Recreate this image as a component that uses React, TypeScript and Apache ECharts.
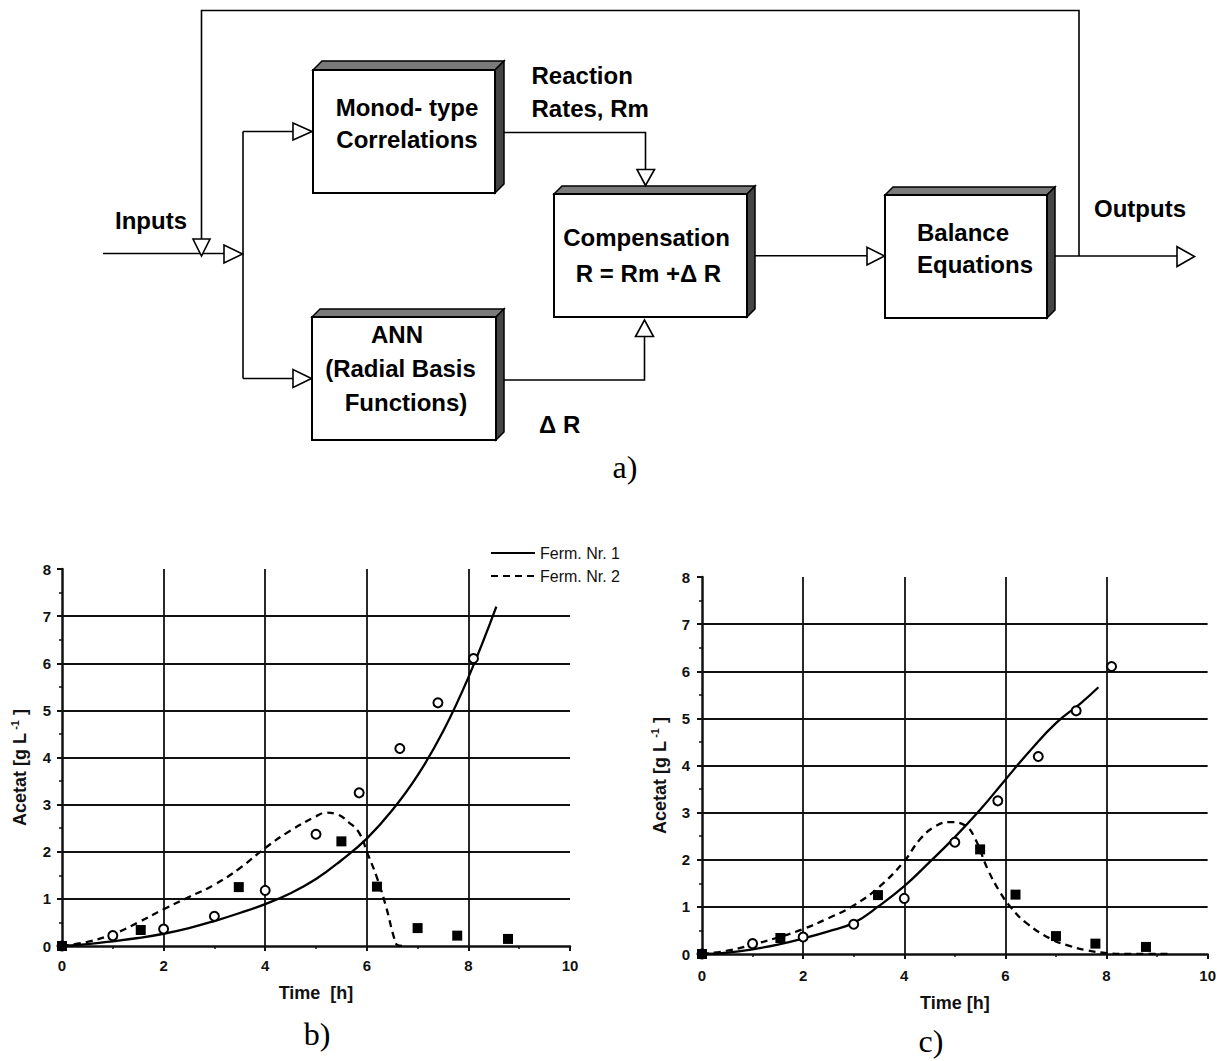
import React, { useEffect, useRef } from 'react';
import * as echarts from 'echarts';

const FONT = '"Liberation Sans", Arial, Helvetica, sans-serif';
const SERIF = '"Liberation Serif", "Times New Roman", serif';
const INK = '#111';

// ---- measured data (identical in panels b and c) ----
const FERM1_TIME = [0, 1, 2, 3, 4, 5, 5.85, 6.65, 7.4, 8.1];
const FERM1_ACETAT = [0, 0.22, 0.36, 0.63, 1.18, 2.37, 3.25, 4.19, 5.16, 6.1];
const FERM2_TIME = [0, 1.55, 3.48, 5.5, 6.2, 7.0, 7.78, 8.78];
const FERM2_ACETAT = [0, 0.34, 1.25, 2.22, 1.26, 0.38, 0.22, 0.15];

// ---- panel b: Monod-type model curves ----
const B_MODEL1_TIME = [0, 0.5, 1, 1.5, 2, 2.5, 3, 3.5, 4, 4.5, 5, 5.5, 6, 6.5, 7, 7.5, 8, 8.55];
const B_MODEL1_ACETAT = [0, 0.04, 0.1, 0.17, 0.26, 0.38, 0.53, 0.7, 0.89, 1.12, 1.42, 1.82, 2.28, 2.88, 3.62, 4.55, 5.7, 7.2];
const B_MODEL2_TIME = [0, 0.5, 1, 1.5, 2, 2.5, 3, 3.5, 4, 4.5, 5, 5.2, 5.4, 5.65, 5.85, 6.02, 6.2, 6.38, 6.53, 6.6, 6.7];
const B_MODEL2_ACETAT = [0, 0.09, 0.25, 0.5, 0.78, 1.04, 1.3, 1.65, 2.08, 2.45, 2.75, 2.83, 2.8, 2.62, 2.4, 1.95, 1.45, 0.83, 0.2, 0.02, 0];

// ---- panel c: hybrid model curves ----
const C_MODEL1_TIME = [0, 0.5, 1, 1.5, 2, 2.5, 3, 3.5, 4, 4.5, 5, 5.5, 6, 6.5, 7, 7.5, 7.84];
const C_MODEL1_ACETAT = [0, 0.03, 0.1, 0.2, 0.33, 0.48, 0.66, 1.02, 1.44, 1.95, 2.48, 3.06, 3.7, 4.33, 4.9, 5.33, 5.66];
const C_MODEL2_TIME = [0, 0.5, 1, 1.5, 2, 2.5, 3, 3.5, 4, 4.3, 4.6, 4.9, 5.2, 5.4, 5.65, 5.9, 6.1, 6.4, 6.9, 7.3, 7.6, 8, 8.5, 9.3];
const C_MODEL2_ACETAT = [0, 0.07, 0.2, 0.35, 0.53, 0.76, 1.03, 1.42, 1.97, 2.42, 2.7, 2.8, 2.73, 2.45, 1.8, 1.3, 1.0, 0.67, 0.32, 0.16, 0.08, 0.02, 0, 0];

const SERIES_NAMES = ['Ferm. Nr. 1', 'Ferm. Nr. 2'];
const X_TITLES = ['Time  [h]', 'Time [h]'];
const PANEL_LABELS = ['a)', 'b)', 'c)'];

const zip = (xs: number[], ys: number[]) => xs.map((x, i) => [x, ys[i]]);

function mkX(gridIndex: number, name: string, nameGap: number, margin: number) {
  return {
    type: 'value', gridIndex, min: 0, max: 10, interval: 2,
    name, nameLocation: 'middle', nameGap,
    nameTextStyle: { fontFamily: FONT, fontWeight: 'bold', fontSize: 18, color: INK },
    axisLine: { show: true, onZero: false, lineStyle: { color: INK, width: 2.5 } },
    axisTick: { show: true, length: 5, lineStyle: { color: INK, width: 2 } },
    minorTick: { show: true, splitNumber: 2, length: 3, lineStyle: { color: INK, width: 1.5 } },
    axisLabel: { margin, fontFamily: FONT, fontWeight: 'bold', fontSize: 15, color: INK },
    splitLine: { show: true, showMinLine: false, showMaxLine: false, lineStyle: { color: INK, width: 1.8 } },
  };
}

function mkY(gridIndex: number, nameGap: number, margin: number) {
  return {
    type: 'value', gridIndex, min: 0, max: 8, interval: 1,
    name: '{a|Acetat [g L}{s| -1}{a| ]}', nameLocation: 'middle', nameGap, nameRotate: 90,
    nameTextStyle: {
      fontFamily: FONT, fontWeight: 'bold', fontSize: 18, color: INK, padding: [0, 20, 0, 0],
      rich: {
        a: { fontFamily: FONT, fontWeight: 'bold', fontSize: 18, color: INK, lineHeight: 22 },
        s: { fontFamily: FONT, fontWeight: 'bold', fontSize: 11, color: INK, verticalAlign: 'top', lineHeight: 22 },
      },
    },
    axisLine: { show: true, onZero: false, lineStyle: { color: INK, width: 2.5 } },
    axisTick: { show: true, length: 5, lineStyle: { color: INK, width: 2 } },
    minorTick: { show: true, splitNumber: 2, length: 3, lineStyle: { color: INK, width: 1.5 } },
    axisLabel: { margin, fontFamily: FONT, fontWeight: 'bold', fontSize: 15, color: INK },
    splitLine: { show: true, showMinLine: false, showMaxLine: false, lineStyle: { color: INK, width: 1.8 } },
  };
}

function mkSeries(idx: number, m1t: number[], m1y: number[], m2t: number[], m2y: number[]) {
  return [
    {
      type: 'line', name: SERIES_NAMES[0], xAxisIndex: idx, yAxisIndex: idx,
      data: zip(m1t, m1y), symbol: 'none', smooth: 0.45,
      lineStyle: { color: '#000', width: 2.3, type: 'solid' }, itemStyle: { color: '#000' }, z: 3,
    },
    {
      type: 'line', name: SERIES_NAMES[1], xAxisIndex: idx, yAxisIndex: idx,
      data: zip(m2t, m2y), symbol: 'none', smooth: 0.45,
      lineStyle: { color: '#000', width: 2.3, type: [7, 5] }, itemStyle: { color: '#000' }, z: 3,
    },
    {
      type: 'scatter', name: 'obs1', xAxisIndex: idx, yAxisIndex: idx,
      data: zip(FERM1_TIME, FERM1_ACETAT), symbol: 'emptyCircle', symbolSize: 9,
      itemStyle: { color: '#000', borderColor: '#000', borderWidth: 2.3, opacity: 1 }, z: 5,
    },
    {
      type: 'scatter', name: 'obs2', xAxisIndex: idx, yAxisIndex: idx,
      data: zip(FERM2_TIME, FERM2_ACETAT), symbol: 'rect', symbolSize: 10,
      itemStyle: { color: '#000', opacity: 1 }, z: 6,
    },
  ];
}

// ---- block diagram helpers ----
const TOP_FILL = '#7a7a7a';
const SIDE_FILL = '#444';

function box3d(x0: number, y0: number, x1: number, y1: number, d: number) {
  return [
    { type: 'polygon', shape: { points: [[x0, y0], [x0 + d, y0 - d], [x1 + d, y0 - d], [x1, y0]] }, style: { fill: TOP_FILL, stroke: '#000', lineWidth: 1.5 } },
    { type: 'polygon', shape: { points: [[x1, y0], [x1 + d, y0 - d], [x1 + d, y1 - d], [x1, y1]] }, style: { fill: SIDE_FILL, stroke: '#000', lineWidth: 1.5 } },
    { type: 'rect', shape: { x: x0, y: y0, width: x1 - x0, height: y1 - y0 }, style: { fill: '#fff', stroke: '#000', lineWidth: 2 } },
  ];
}
function tri(points: number[][]) {
  return { type: 'polygon', z: 10, shape: { points }, style: { fill: '#fff', stroke: '#000', lineWidth: 1.6 } };
}
function pl(points: number[][]) {
  return { type: 'polyline', shape: { points }, style: { stroke: '#000', fill: null, lineWidth: 1.6 } };
}
function txt(text: string, x: number, y: number, align = 'center', size = 24, family = FONT, weight = 'bold') {
  return { type: 'text', z: 20, x, y, style: { text, fill: '#000', fontSize: size, fontWeight: weight, fontFamily: family, align, verticalAlign: 'middle' } };
}

const diagram: any[] = [
  // connecting lines
  pl([[103, 253.5], [224, 253.5]]),
  pl([[201.5, 239], [201.5, 10.5], [1079, 10.5], [1079, 256]]),
  pl([[243, 131.5], [243, 378.5]]),
  pl([[243, 131.5], [293, 131.5]]),
  pl([[243, 378.5], [293, 378.5]]),
  pl([[504, 132.5], [645.5, 132.5], [645.5, 169.5]]),
  pl([[504, 380], [644.5, 380], [644.5, 336.5]]),
  pl([[755, 255.7], [867, 255.7]]),
  pl([[1055, 256], [1177, 256]]),
  // boxes
  ...box3d(313, 70, 495, 193, 9),
  ...box3d(312, 317, 496, 440, 8),
  ...box3d(554, 194, 747, 317, 8),
  ...box3d(885, 195, 1047, 318, 8),
  // arrow heads
  tri([[193, 239], [210, 239], [201.5, 256]]),
  tri([[224, 245], [224, 263], [242.5, 254]]),
  tri([[293, 123], [293, 140], [312, 131.5]]),
  tri([[293, 369.5], [293, 387.5], [311.5, 378.5]]),
  tri([[637, 169.5], [654.5, 169.5], [645.5, 185.5]]),
  tri([[635.5, 336.5], [653.5, 336.5], [644.5, 320]]),
  tri([[867, 247.3], [867, 265], [884.5, 256]]),
  tri([[1177, 246.7], [1177, 266.5], [1194.5, 256.5]]),
  // labels
  txt('Inputs', 115, 220, 'left'),
  txt('Monod- type', 407, 107),
  txt('Correlations', 407, 139.5),
  txt('Reaction', 531.5, 75, 'left'),
  txt('Rates, Rm', 531.5, 108.5, 'left'),
  txt('Compensation', 646.5, 237.5),
  txt('R = Rm +Δ R', 648.5, 273.5),
  txt('ANN', 397, 334),
  txt('(Radial Basis', 400.5, 368.5),
  txt('Functions)', 406, 402),
  txt('Δ R', 539, 424.5, 'left'),
  txt('Balance', 917, 232, 'left'),
  txt('Equations', 917, 264.5, 'left'),
  txt('Outputs', 1094, 208.5, 'left'),
  txt(PANEL_LABELS[0], 625, 467, 'center', 32, SERIF, 'normal'),
  txt(PANEL_LABELS[1], 317, 1034, 'center', 32, SERIF, 'normal'),
  txt(PANEL_LABELS[2], 931, 1041, 'center', 32, SERIF, 'normal'),
];

const option: any = {
  animation: false,
  backgroundColor: '#fff',
  grid: [
    { left: 62, top: 569, width: 508, height: 377 },
    { left: 702, top: 577, width: 506, height: 377 },
  ],
  xAxis: [mkX(0, X_TITLES[0], 38, 12), mkX(1, X_TITLES[1], 40, 14)],
  yAxis: [mkY(0, 31, 11), mkY(1, 31, 12)],
  legend: {
    data: SERIES_NAMES, orient: 'vertical', left: 490, top: 545, padding: 0,
    itemGap: 7, itemWidth: 44, itemHeight: 16, selectedMode: false,
    itemStyle: { opacity: 0, borderWidth: 0 },
    textStyle: { fontFamily: FONT, fontSize: 16, color: INK },
  },
  series: [
    ...mkSeries(0, B_MODEL1_TIME, B_MODEL1_ACETAT, B_MODEL2_TIME, B_MODEL2_ACETAT),
    ...mkSeries(1, C_MODEL1_TIME, C_MODEL1_ACETAT, C_MODEL2_TIME, C_MODEL2_ACETAT),
  ],
  graphic: diagram,
};

export default function App() {
  const ref = useRef<HTMLDivElement>(null);
  useEffect(() => {
    const chart = echarts.init(ref.current!, null, { renderer: 'svg', width: 1219, height: 1061 });
    chart.setOption(option);
    return () => chart.dispose();
  }, []);
  return <div ref={ref} style={{ position: 'absolute', left: 0, top: 0, width: 1219, height: 1061, background: '#fff' }} />;
}
